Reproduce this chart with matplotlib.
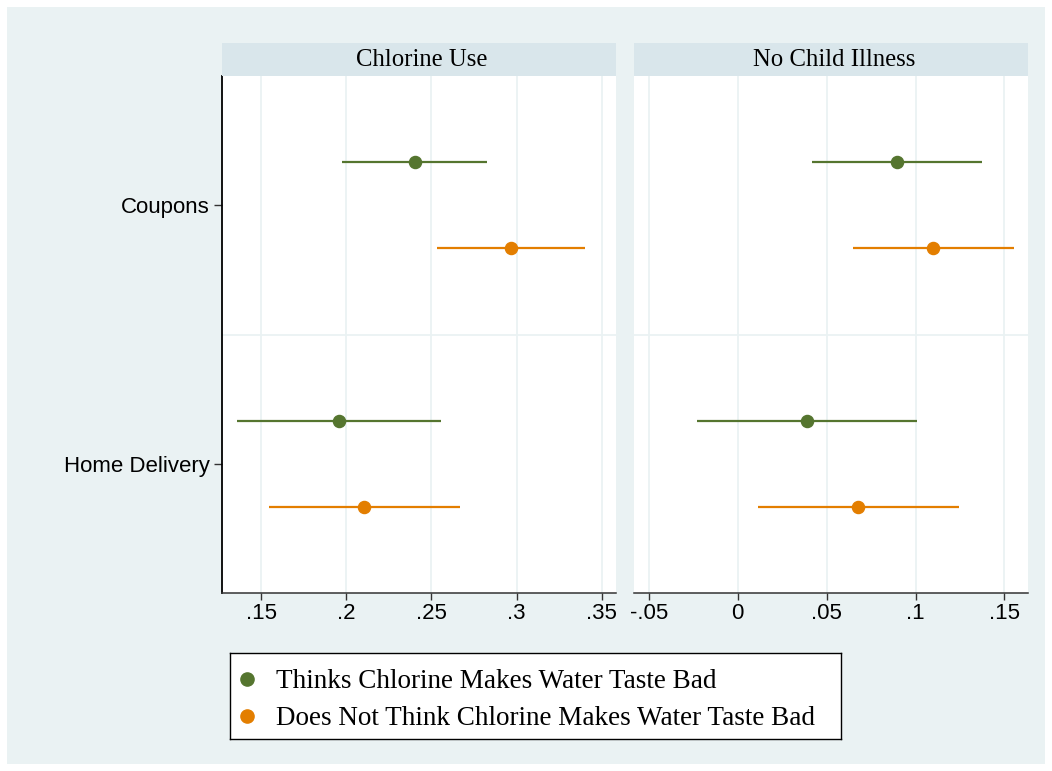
import matplotlib
matplotlib.use('Agg')
import matplotlib.pyplot as plt
from matplotlib.patches import Rectangle

# treatment arms (rows) and outcomes (panels)
categories = ['Coupons', 'Home Delivery']
panel_titles = ['Chlorine Use', 'No Child Illness']
legend_labels = ['Thinks Chlorine Makes Water Taste Bad',
                 'Does Not Think Chlorine Makes Water Taste Bad']

# Chlorine Use panel: point estimate, lower / upper CI
chlorine_bad = [0.2406, 0.1959]
chlorine_bad_lo = [0.1978, 0.1359]
chlorine_bad_hi = [0.2828, 0.2559]
chlorine_ok = [0.2967, 0.2106]
chlorine_ok_lo = [0.2535, 0.1545]
chlorine_ok_hi = [0.3404, 0.2669]

# No Child Illness panel
illness_bad = [0.0895, 0.0389]
illness_bad_lo = [0.0420, -0.0229]
illness_bad_hi = [0.1372, 0.1010]
illness_ok = [0.1100, 0.0679]
illness_ok_lo = [0.0648, 0.0114]
illness_ok_hi = [0.1552, 0.1244]

chlorine_ticks = [0.15, 0.2, 0.25, 0.3, 0.35]
chlorine_ticklabels = ['.15', '.2', '.25', '.3', '.35']
illness_ticks = [-0.05, 0, 0.05, 0.1, 0.15]
illness_ticklabels = ['-.05', '0', '.05', '.1', '.15']

GREEN = '#55752F'
ORANGE = '#E37E00'
BG = '#EAF2F3'
STRIP = '#D9E6EB'
SANS = 'Liberation Sans'
SERIF = 'Liberation Serif'

W, H = 1052, 771


def px_box(x0, y0, x1, y1):
    """pixel box (top-left origin) -> figure fraction rect"""
    return [x0 / W, 1 - y1 / H, (x1 - x0) / W, (y1 - y0) / H]


def draw_panel(ax, bad, bad_lo, bad_hi, ok, ok_lo, ok_hi, xlim, ticks, ticklabels):
    ax.set_facecolor('white')
    for x in ticks:
        ax.axvline(x, color=BG, lw=1.3, zorder=0)
    ax.axhline(1.5, color=BG, lw=1.3, zorder=0)
    off = 1 / 6
    ys = [i + 1 for i in range(len(categories))]
    ax.hlines([y - off for y in ys], bad_lo, bad_hi, color=GREEN, lw=1.6, zorder=2)
    ax.plot(bad, [y - off for y in ys], 'o', color=GREEN, ms=8.7, zorder=3)
    ax.hlines([y + off for y in ys], ok_lo, ok_hi, color=ORANGE, lw=1.6, zorder=2)
    ax.plot(ok, [y + off for y in ys], 'o', color=ORANGE, ms=8.7, zorder=3)
    ax.set_xlim(*xlim)
    ax.set_ylim(2.5, 0.5)
    ax.set_xticks(ticks)
    ax.set_xticklabels(ticklabels, fontfamily=SANS, fontsize=16)
    ax.tick_params(axis='x', length=5, width=1, color='#333333', pad=2.5)
    for s in ('top', 'right'):
        ax.spines[s].set_visible(False)
    ax.spines['bottom'].set_color('#333333')
    ax.spines['bottom'].set_linewidth(1.1)


def draw_strip(fig, rect, title):
    sax = fig.add_axes(rect)
    sax.set_facecolor(STRIP)
    for s in sax.spines.values():
        s.set_visible(False)
    sax.set_xticks([])
    sax.set_yticks([])
    sax.text(0.508, 0.47, title, ha='center', va='center', fontfamily=SERIF,
             fontsize=17.8, transform=sax.transAxes)


def draw_legend(fig, rect):
    # legend box drawn by hand so its width matches the original
    lax = fig.add_axes(rect)
    lax.set_facecolor('white')
    for s in lax.spines.values():
        s.set_color('black')
        s.set_linewidth(1.0)
    lax.set_xticks([])
    lax.set_yticks([])
    lax.set_xlim(0, 1)
    lax.set_ylim(1, 0)
    rows = [0.30, 0.73]
    for color, label, y in zip([GREEN, ORANGE], legend_labels, rows):
        lax.plot([0.028], [y], 'o', color=color, ms=9.5)
        lax.text(0.075, y + 0.035, label, ha='left', va='center', fontfamily=SERIF,
                 fontsize=19.5)


def main():
    fig = plt.figure(figsize=(W / 100, H / 100), dpi=100)
    fig.patch.set_facecolor('white')
    fig.patches.append(Rectangle((7 / W, 7 / H), (W - 14) / W, (H - 14) / H,
                                 transform=fig.transFigure, facecolor=BG,
                                 edgecolor='none', zorder=-10))

    ax1 = fig.add_axes(px_box(222, 76, 616, 593))
    ax2 = fig.add_axes(px_box(634, 76, 1028, 593))

    draw_panel(ax1, chlorine_bad, chlorine_bad_lo, chlorine_bad_hi,
               chlorine_ok, chlorine_ok_lo, chlorine_ok_hi,
               (0.1271, 0.3584), chlorine_ticks, chlorine_ticklabels)
    draw_panel(ax2, illness_bad, illness_bad_lo, illness_bad_hi,
               illness_ok, illness_ok_lo, illness_ok_hi,
               (-0.0584, 0.1633), illness_ticks, illness_ticklabels)

    ax1.set_yticks([1, 2])
    ax1.set_yticklabels(categories, fontfamily=SANS, fontsize=16)
    ax1.tick_params(axis='y', length=6, width=1, color='#333333', pad=3)
    ax1.spines['left'].set_color('black')
    ax1.spines['left'].set_linewidth(1.3)
    ax2.set_yticks([])
    ax2.spines['left'].set_visible(False)

    draw_strip(fig, px_box(222, 43, 616, 76), panel_titles[0])
    draw_strip(fig, px_box(634, 43, 1028, 76), panel_titles[1])

    draw_legend(fig, px_box(230, 653, 841, 739))

    fig.savefig('out.png', dpi=100, facecolor=fig.get_facecolor())


if __name__ == '__main__':
    main()
